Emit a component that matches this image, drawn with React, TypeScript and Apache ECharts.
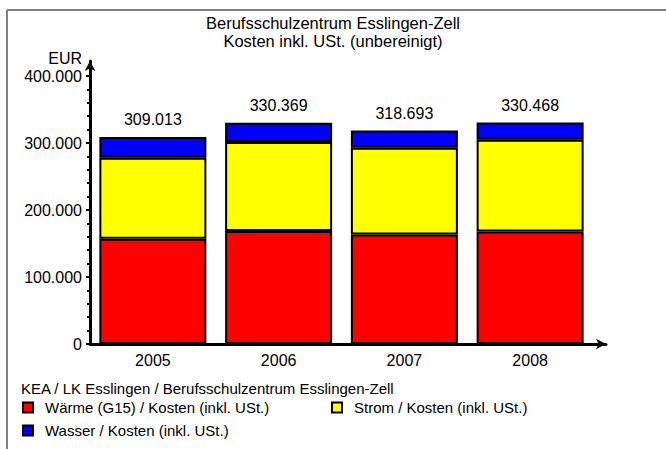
import React, { useEffect, useRef } from "react";
import * as echarts from "echarts";

const categories = ["2005", "2006", "2007", "2008"];
const waerme = [157000, 168500, 163500, 168000];
const strom = [121000, 133000, 129500, 137000];
const wasser = [31013, 28869, 25693, 25468];
const yTicks = [0, 100000, 200000, 300000, 400000];

const seriesNames = [
  "Wärme (G15) / Kosten (inkl. USt.)",
  "Strom / Kosten (inkl. USt.)",
  "Wasser / Kosten (inkl. USt.)",
];
const titleText = "Berufsschulzentrum Esslingen-Zell\nKosten inkl. USt. (unbereinigt)";
const legendHeader = "KEA / LK Esslingen / Berufsschulzentrum Esslingen-Zell";

const FONT = "'Liberation Sans', Arial, Helvetica, sans-serif";

function fmtDE(v: number): string {
  const s = Math.round(v).toString();
  return s.replace(/\B(?=(\d{3})+(?!\d))/g, ".");
}

export default function App() {
  const ref = useRef<HTMLDivElement>(null);
  useEffect(() => {
    if (!ref.current) return;
    const chart = echarts.init(ref.current, undefined, { renderer: "svg" });
    const totals = categories.map((_, i) => waerme[i] + strom[i] + wasser[i]);
    const barStyle = (color: string) => ({ color, borderColor: "#000", borderWidth: 2 });
    const legendCommon = {
      orient: "horizontal" as const,
      icon: "rect",
      itemWidth: 10,
      itemHeight: 10,
      itemStyle: { borderColor: "#000", borderWidth: 2 },
      textStyle: { fontFamily: FONT, fontSize: 15, color: "#000", padding: [0, 0, 0, 7] },
      padding: 0,
    };
    chart.setOption({
      animation: false,
      backgroundColor: "#fff",
      textStyle: { fontFamily: FONT },
      title: [
        {
          text: titleText,
          left: "center",
          top: 14,
          padding: [0, 0, 0, 8],
          textStyle: { fontFamily: FONT, fontSize: 16.5, fontWeight: "normal", color: "#000", lineHeight: 18 },
        },
        {
          text: legendHeader,
          left: 21,
          top: 380,
          padding: 0,
          textStyle: { fontFamily: FONT, fontSize: 15, fontWeight: "normal", color: "#000", lineHeight: 17 },
        },
      ],
      legend: [
        { ...legendCommon, data: [seriesNames[0]], left: 22, top: 400 },
        { ...legendCommon, data: [seriesNames[1]], left: 331, top: 400 },
        { ...legendCommon, data: [seriesNames[2]], left: 22, top: 423 },
      ],
      graphic: [
        { type: "line", shape: { x1: 7, y1: 10, x2: 666, y2: 10 }, style: { stroke: "#808080", lineWidth: 2 } },
        { type: "line", shape: { x1: 7, y1: 10, x2: 7, y2: 449 }, style: { stroke: "#808080", lineWidth: 2 } },
      ],
      grid: [
        { left: 90, right: 73, top: 76, bottom: 105, containLabel: false },
        { left: 90, right: 60, top: 61, bottom: 105, containLabel: false },
      ],
      xAxis: [
        {
          type: "category",
          gridIndex: 0,
          data: categories,
          axisLine: { show: false },
          axisTick: { show: false },
          axisLabel: { color: "#000", fontSize: 16, fontFamily: FONT, margin: 8 },
          splitLine: { show: false },
        },
        {
          type: "value",
          gridIndex: 1,
          min: 0,
          max: 1,
          axisLine: {
            show: true,
            onZero: false,
            lineStyle: { color: "#000", width: 3 },
            symbol: ["none", "arrow"],
            symbolSize: [8, 10],
          },
          axisTick: { show: false },
          axisLabel: { show: false },
          splitLine: { show: false },
        },
      ],
      yAxis: [
        {
          type: "value",
          gridIndex: 0,
          min: 0,
          max: 400000,
          interval: 100000,
          name: "EUR",
          nameLocation: "end",
          nameGap: 10,
          nameTextStyle: {
            color: "#000",
            fontSize: 16,
            fontFamily: FONT,
            align: "right",
            verticalAlign: "bottom",
            padding: [0, 8, 0, 0],
          },
          axisLine: { show: false },
          axisTick: { show: true, length: 4, lineStyle: { color: "#000", width: 2 } },
          minorTick: { show: true, splitNumber: 5, length: 3, lineStyle: { color: "#000", width: 2 } },
          axisLabel: {
            color: "#000",
            fontSize: 16,
            fontFamily: FONT,
            margin: 8,
            formatter: (v: number) => (yTicks.includes(v) ? fmtDE(v) : ""),
          },
          splitLine: { show: false },
        },
        {
          type: "value",
          gridIndex: 1,
          min: 0,
          max: 1,
          axisLine: {
            show: true,
            onZero: false,
            lineStyle: { color: "#000", width: 3 },
            symbol: ["none", "arrow"],
            symbolSize: [8, 10],
          },
          axisTick: { show: false },
          axisLabel: { show: false },
          splitLine: { show: false },
        },
      ],
      series: [
        {
          name: seriesNames[0],
          type: "bar",
          stack: "total",
          barWidth: 107,
          data: waerme,
          itemStyle: barStyle("#ff0000"),
        },
        {
          name: seriesNames[1],
          type: "bar",
          stack: "total",
          barWidth: 107,
          data: strom,
          itemStyle: barStyle("#ffff00"),
        },
        {
          name: seriesNames[2],
          type: "bar",
          stack: "total",
          barWidth: 107,
          data: wasser,
          itemStyle: barStyle("#0000ff"),
          label: {
            show: true,
            position: "top",
            distance: 9,
            color: "#000",
            fontSize: 16,
            fontFamily: FONT,
            formatter: (p: any) => fmtDE(totals[p.dataIndex]),
          },
        },
      ],
    });
    return () => chart.dispose();
  }, []);
  return (
    <div
      ref={ref}
      style={{ position: "absolute", left: 0, top: 0, width: 666, height: 449, background: "#fff" }}
    />
  );
}
